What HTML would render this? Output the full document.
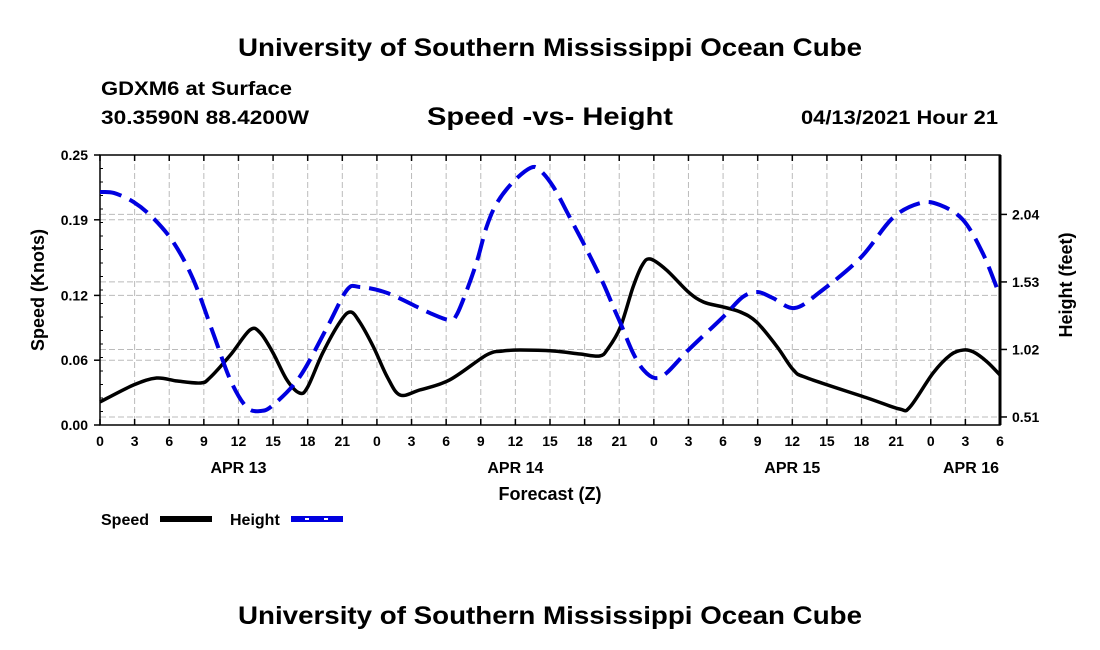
<!DOCTYPE html>
<html><head><meta charset="utf-8"><style>
body{margin:0;background:#fff}
svg{display:block;font-family:"Liberation Sans",sans-serif;font-weight:bold}
</style></head><body>
<svg id="chart" width="1100" height="650" viewBox="0 0 1100 650">
<text x="238" y="56" font-size="25" textLength="624" lengthAdjust="spacingAndGlyphs">University of Southern Mississippi Ocean Cube</text>
<text x="101" y="95" font-size="19" textLength="191" lengthAdjust="spacingAndGlyphs">GDXM6 at Surface</text>
<text x="101" y="124" font-size="19" textLength="208" lengthAdjust="spacingAndGlyphs">30.3590N  88.4200W</text>
<text x="427" y="125" font-size="25" textLength="246" lengthAdjust="spacingAndGlyphs">Speed -vs- Height</text>
<text x="801" y="124" font-size="19" textLength="197" lengthAdjust="spacingAndGlyphs">04/13/2021 Hour 21</text>
<g id="grid"></g>
<g id="axes"></g>
<g id="series"></g>
<text x="550" y="500" font-size="18" text-anchor="middle">Forecast (Z)</text>
<text transform="translate(44,290) rotate(-90)" font-size="18" text-anchor="middle">Speed (Knots)</text>
<text transform="translate(1072,285) rotate(-90)" font-size="18" text-anchor="middle">Height (feet)</text>
<g>
<text x="101" y="525" font-size="16">Speed</text>
<rect x="160" y="516" width="52" height="6" fill="#000"/>
<text x="230" y="525" font-size="16">Height</text>
<rect x="291" y="516" width="52" height="6" fill="#0000e0"/>
<line x1="305" y1="519" x2="309" y2="519" stroke="#fff" stroke-width="2"/>
<line x1="324" y1="519" x2="328" y2="519" stroke="#fff" stroke-width="2"/>
</g>
<text x="238" y="624" font-size="25" textLength="624" lengthAdjust="spacingAndGlyphs">University of Southern Mississippi Ocean Cube</text>
</svg>
<script>
const hourTickLabels=["0","3","6","9","12","15","18","21","0","3","6","9","12","15","18","21","0","3","6","9","12","15","18","21","0","3","6"];
const dayLabels=["APR 13","APR 14","APR 15","APR 16"];
const dayLabelHours=[12,36,60,78];
const speedTicks=[0,0.06,0.12,0.19,0.25];
const heightTicks=[0.51,1.02,1.53,2.04];
const speedHours=[0,2.9,4.9,6.7,8.7,9.5,11.3,13,13.9,15,16.2,17.3,18,19.3,20.8,21.7,22.5,23.7,24.9,26,27.7,30.3,33.5,34.9,36.4,39.3,41.6,43.3,44,45.1,46.2,47,47.7,49.1,51,52.3,54,55.5,56.9,58.7,60.1,61.3,66.5,69.3,70.2,72.2,73.7,74.8,75.7,76.9,78];
const speedValues=[.0213,.0370,.0435,.0407,.0389,.0435,.0648,.0880,.0852,.0667,.0417,.0296,.0352,.0667,.0954,.1046,.0954,.0722,.0444,.0278,.0324,.0417,.0648,.0685,.0694,.0685,.0657,.0639,.0704,.0907,.1278,.1481,.1537,.1435,.1231,.1139,.1093,.1046,.0954,.0722,.0509,.0435,.0250,.0148,.0167,.0481,.0648,.0694,.0676,.0583,.0463];
const heightHours=[0,1.2,2.9,4.6,6.4,8.1,9.8,11.3,12.7,13.9,15,17.3,19.7,21.4,22.5,24.9,28.6,30.3,30.9,31.8,32.7,33.5,34.4,35.8,37.3,38.1,39.3,40.7,42.2,43.6,44.6,45.1,46.2,47.1,48.1,49.1,51,54,55.7,57,58.3,60.2,62.4,65.9,68.7,71.1,72.8,74.8,76.5,77.8];
const heightValues=[2.209,2.202,2.134,2.013,1.824,1.545,1.144,0.789,0.585,0.555,0.600,0.812,1.190,1.469,1.492,1.446,1.295,1.242,1.280,1.469,1.695,1.945,2.126,2.285,2.391,2.376,2.247,2.020,1.771,1.522,1.318,1.220,0.993,0.865,0.804,0.842,1.016,1.265,1.416,1.454,1.409,1.333,1.454,1.711,2.013,2.126,2.111,1.998,1.748,1.469];

const NS="http://www.w3.org/2000/svg";
const L=100,R=1000,T=155,B=425;
const xS=h=>L+(R-L)*h/78;
const yS=v=>B-(B-T)*v/0.25;
const yH=f=>484.5-132.4*f;
function mk(tag,attrs,parent){const e=document.createElementNS(NS,tag);for(const k in attrs)e.setAttribute(k,attrs[k]);parent.appendChild(e);return e;}
const grid=document.getElementById('grid'),axes=document.getElementById('axes'),series=document.getElementById('series');
hourTickLabels.forEach((lab,i)=>{
  const x=xS(i*3);
  if(i>0&&i<hourTickLabels.length-1){const g=mk('line',{x1:x,y1:T,x2:x,y2:B,stroke:'#bbb','stroke-width':1,'stroke-dasharray':'6,3'},grid);
  
  }
  mk('line',{x1:x,y1:B,x2:x,y2:B-6,stroke:'#000','stroke-width':1.5},axes);
  mk('line',{x1:x,y1:T,x2:x,y2:T+6,stroke:'#000','stroke-width':1.5},axes);
  const t=mk('text',{x:x,y:B+21,'font-size':14,'text-anchor':'middle'},axes);t.textContent=lab;
  
  
});
dayLabels.forEach((d,i)=>{const last=i==dayLabels.length-1;
  const t=mk('text',{x:last?R-1:xS(dayLabelHours[i]),y:B+48,'font-size':16,'text-anchor':last?'end':'middle'},axes);
  t.textContent=d;
  
  });
speedTicks.forEach(v=>{const y=yS(v);
  if(v>0&&v<0.25){const g=mk('line',{x1:L,y1:y,x2:R,y2:y,stroke:'#bbb','stroke-width':1,'stroke-dasharray':'6,3'},grid);
  
  }
  mk('line',{x1:L-6,y1:y,x2:L,y2:y,stroke:'#000','stroke-width':1.5},axes);
  const t=mk('text',{x:L-12,y:y+5,'font-size':14,'text-anchor':'end'},axes);t.textContent=v.toFixed(2);
  
  });
for(let v=0.0125;v<0.25;v+=0.0125){mk('line',{x1:L,y1:yS(v),x2:L+3,y2:yS(v),stroke:'#000','stroke-width':1},axes);}
heightTicks.forEach(f=>{const y=yH(f);
  const g=mk('line',{x1:L,y1:y,x2:R,y2:y,stroke:'#bbb','stroke-width':1,'stroke-dasharray':'6,3'},grid);
  
  
  mk('line',{x1:R,y1:y,x2:R+7,y2:y,stroke:'#000','stroke-width':1.5},axes);
  const t=mk('text',{x:R+12,y:y+5,'font-size':14},axes);t.textContent=f.toFixed(2);
  
  });
mk('rect',{x:L,y:T,width:R-L,height:B-T,fill:'none',stroke:'#000','stroke-width':1.5},axes);
mk('line',{x1:R,y1:T,x2:R,y2:B,stroke:'#000','stroke-width':3},axes);
function smooth(pts){let d=`M${pts[0][0]},${pts[0][1]}`;
  for(let i=0;i<pts.length-1;i++){const p0=pts[i-1]||pts[i],p1=pts[i],p2=pts[i+1],p3=pts[i+2]||p2;
    d+=` C${p1[0]+(p2[0]-p0[0])/6},${p1[1]+(p2[1]-p0[1])/6} ${p2[0]-(p3[0]-p1[0])/6},${p2[1]-(p3[1]-p1[1])/6} ${p2[0]},${p2[1]}`;}
  return d;}
const sp=mk('path',{d:smooth(speedHours.map((h,i)=>[xS(h),yS(speedValues[i])])),fill:'none',stroke:'#000','stroke-width':3.5,'stroke-linejoin':'round'},series);


const hp=mk('path',{d:smooth(heightHours.map((h,i)=>[xS(h),yH(heightValues[i])])),fill:'none',stroke:'#0000e0','stroke-width':4,'stroke-dasharray':'22,9'},series);


</script>
</body></html>
